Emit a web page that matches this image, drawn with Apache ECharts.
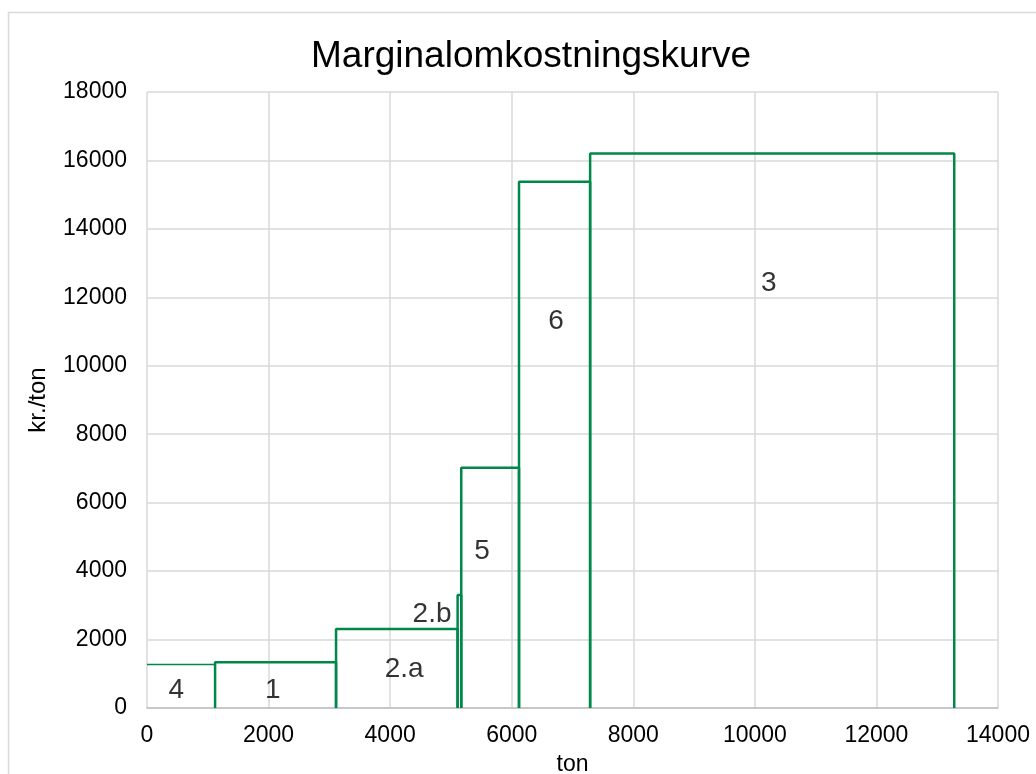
<!DOCTYPE html>
<html>
<head>
<meta charset="utf-8">
<script src="https://cdn.jsdelivr.net/npm/echarts@6/dist/echarts.min.js"></script>
<style>
html,body{margin:0;padding:0;background:#fff;}
#chart{width:1036px;height:774px;}
</style>
</head>
<body>
<div id="chart"></div>
<script>
// Data
const boxLabels = ['4', '1', '2.a', '2.b', '5', '6', '3'];
const boxStart = [0, 1120, 3110, 5110, 5170, 6120, 7290];
const boxEnd = [1120, 3110, 5110, 5170, 6120, 7290, 13280];
const boxCost = [1270, 1340, 2310, 3300, 7020, 15380, 16200];
const labelX = [480, 2070, 4230, 4690, 5510, 6730, 10230];
const labelY = [520, 520, 1140, 2750, 4590, 11310, 12420];
const xTicks = [0, 2000, 4000, 6000, 8000, 10000, 12000, 14000];
const yTicks = [0, 2000, 4000, 6000, 8000, 10000, 12000, 14000, 16000, 18000];

const green = '#00884B';
const font = 'Liberation Sans, Arial, sans-serif';

const series = boxLabels.map((name, i) => {
  let pts;
  if (boxStart[i] === 0) {
    pts = [[boxStart[i], boxCost[i]], [boxEnd[i], boxCost[i]]];
  } else {
    pts = [[boxStart[i], 0], [boxStart[i], boxCost[i]], [boxEnd[i], boxCost[i]], [boxEnd[i], 0]];
  }
  return {
    type: 'line', name: name, data: pts, symbol: 'none',
    lineStyle: {color: green, width: boxStart[i] === 0 ? 1.5 : 2.5},
    silent: true, z: 3
  };
});
series.push({
  type: 'scatter',
  data: boxLabels.map((n, i) => ({value: [labelX[i], labelY[i]], name: n})),
  symbolSize: 0,
  label: {
    show: true, position: 'inside', formatter: p => p.name,
    fontSize: 28, color: '#000', fontFamily: font
  },
  silent: true, z: 4
});

const chart = echarts.init(document.getElementById('chart'), null, {renderer: 'canvas'});
chart.setOption({
  animation: false,
  backgroundColor: '#fff',
  title: {
    text: 'Marginalomkostningskurve', left: 306, top: 33,
    textStyle: {fontSize: 37, fontWeight: 'normal', color: '#000', fontFamily: font}
  },
  grid: {left: 147, right: 38, top: 92, bottom: 66, containLabel: false, outerBoundsMode: 'none'},
  xAxis: {
    type: 'value', min: xTicks[0], max: xTicks[xTicks.length - 1], interval: 2000,
    name: 'ton', nameLocation: 'middle', nameGap: 45,
    nameTextStyle: {fontSize: 23, color: '#000', fontFamily: font},
    axisLine: {show: true, lineStyle: {color: '#bfbfbf', width: 1.5}},
    axisTick: {show: false},
    axisLabel: {fontSize: 23, color: '#000', margin: 16, fontFamily: font, formatter: v => String(v)},
    splitLine: {show: true, lineStyle: {color: '#d9d9d9', width: 1.5}}
  },
  yAxis: {
    type: 'value', min: yTicks[0], max: yTicks[yTicks.length - 1], interval: 2000,
    name: 'kr./ton', nameLocation: 'middle', nameGap: 97, nameRotate: 90,
    nameTextStyle: {fontSize: 24, color: '#000', fontFamily: font},
    axisLine: {show: false},
    axisTick: {show: false},
    axisLabel: {fontSize: 23, color: '#000', margin: 20, fontFamily: font, formatter: v => String(v)},
    splitLine: {show: true, lineStyle: {color: '#d9d9d9', width: 1.5}}
  },
  graphic: [{
    type: 'rect', silent: true,
    shape: {x: 8.5, y: 12.5, width: 1040, height: 800},
    style: {fill: 'none', stroke: '#d9d9d9', lineWidth: 1.5}, z: -1
  }],
  series: series
});
</script>
</body>
</html>
